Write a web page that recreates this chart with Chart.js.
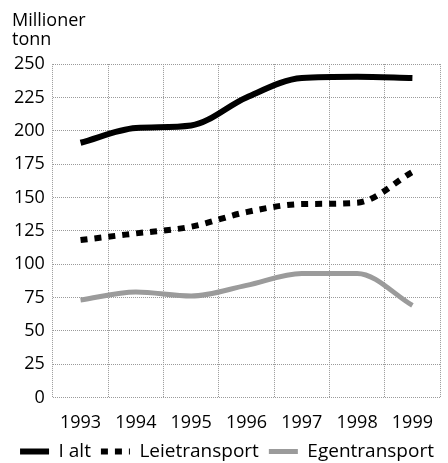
<!DOCTYPE html>
<html>
<head>
<meta charset="utf-8">
<script src="https://cdn.jsdelivr.net/npm/chart.js@4/dist/chart.umd.min.js"></script>
<style>
html,body{margin:0;padding:0;background:#fff;}
#wrap{width:448px;height:463px;position:relative;}
</style>
</head>
<body>
<div id="wrap"><canvas id="c"></canvas></div>
<script>
const years = ['1993','1994','1995','1996','1997','1998','1999'];
const iAlt = [191, 202, 204, 225, 239.5, 240.5, 239.5];
const leietransport = [118, 123, 128, 139, 145, 146, 169];
const egentransport = [73, 79, 76, 84, 93, 93, 69];
const yTicks = [0, 25, 50, 75, 100, 125, 150, 175, 200, 225, 250];
const seriesNames = ['I alt', 'Leietransport', 'Egentransport'];
const titleLines = ['Millioner', 'tonn'];

const FONT = '"Open Sans", "Noto Sans", sans-serif';
const gridColor = '#9a9a9a';

const titleShift = {
  id: 'titleShift',
  afterLayout(chart) {
    if (chart.titleBlock) { chart.titleBlock.left += 6; chart.titleBlock.right += 6; }
  }
};

new Chart(document.getElementById('c'), {
  type: 'line',
  plugins: [titleShift],
  data: {
    labels: years,
    datasets: [
      { label: seriesNames[0], data: iAlt, borderColor: '#000', backgroundColor: '#000',
        borderWidth: 6, pointRadius: 0, cubicInterpolationMode: 'monotone', borderCapStyle: 'butt' },
      { label: seriesNames[1], data: leietransport, borderColor: '#000', backgroundColor: '#000',
        borderWidth: 6, borderDash: [7, 7], pointRadius: 0, cubicInterpolationMode: 'monotone' },
      { label: seriesNames[2], data: egentransport, borderColor: '#9b9b9b', backgroundColor: '#9b9b9b',
        borderWidth: 5, pointRadius: 0, cubicInterpolationMode: 'monotone' }
    ]
  },
  options: {
    responsive: true,
    maintainAspectRatio: false,
    animation: false,
    layout: { padding: { left: 6, right: 0, top: 0, bottom: -8 } },
    plugins: {
      tooltip: { enabled: false },
      title: {
        display: true, text: titleLines, align: 'start', color: '#000',
        font: { family: FONT, size: 18, weight: 'normal', lineHeight: 1.03 },
        padding: { top: 12, bottom: 15 }
      },
      legend: {
        position: 'bottom',
        labels: {
          usePointStyle: true, pointStyle: 'line', pointStyleWidth: 29,
          boxWidth: 29, boxHeight: 10, padding: 10, color: '#000',
          font: { family: FONT, size: 19 },
          generateLabels: (chart) => {
            const items = Chart.defaults.plugins.legend.labels.generateLabels(chart);
            items.forEach((it, i) => {
              const ds = chart.data.datasets[i];
              it.lineDash = ds.borderDash || [];
              it.lineWidth = ds.borderWidth;
              it.strokeStyle = ds.borderColor;
              it.pointStyle = 'line';
              it.lineCap = 'butt';
            });
            return items;
          }
        }
      }
    },
    scales: {
      x: {
        type: 'category',
        offset: true,
        afterFit: (s) => { s.height -= 17; },
        grid: { offset: true, color: gridColor, lineWidth: 1, drawTicks: false },
        border: { display: false, dash: [1, 1] },
        ticks: { color: '#000', padding: 15, font: { family: FONT, size: 18 } }
      },
      y: {
        min: 0, max: 250,
        afterBuildTicks: (s) => { s.ticks = yTicks.map(v => ({ value: v })); },
        grid: { color: gridColor, lineWidth: 1, drawTicks: false },
        border: { display: false, dash: [1, 1] },
        ticks: { color: '#000', padding: 8, font: { family: FONT, size: 18 } }
      }
    }
  }
});
</script>
</body>
</html>
